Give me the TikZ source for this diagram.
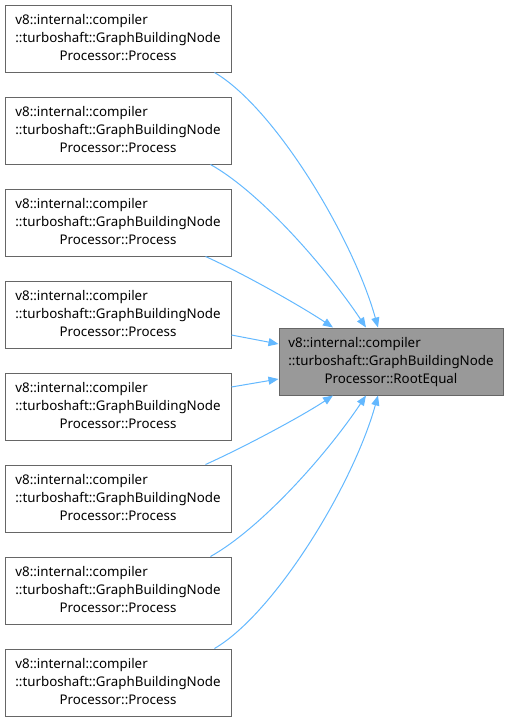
\documentclass[tikz,border=0pt]{standalone}
\usepackage{fontspec}
\setmainfont{Noto Sans}
\usetikzlibrary{arrows.meta, positioning, calc}
\definecolor{EdgeBlue}{HTML}{63B8FF}
\definecolor{BoxGray} {HTML}{666666}
\definecolor{RootFill}{HTML}{999999}
\newcommand{\gbname}[1]{\begin{tabular}{@{}l@{}}v8::internal::compiler\\::turboshaft::GraphBuildingNode\\\multicolumn{1}{@{}c@{}}{Processor::#1}\end{tabular}}

\begin{document}
\begin{tikzpicture}[
  x = 0.75pt, y = -0.75pt,
  node distance = 18pt,
  caller/.style = {draw=BoxGray, fill=white, line width=0.75pt,
                   minimum width=169.5pt, minimum height=50.25pt, inner sep=0pt,
                   font=\fontsize{10}{13.5}\selectfont, align=center},
  root/.style   = {caller, fill=RootFill, minimum width=168pt},
  arr/.style    = {-{Triangle[length=7.5pt, width=6pt]}, EdgeBlue, line width=0.75pt},
]
\useasboundingbox (0,0) rectangle (509,722);
\node[caller] (p1) at (118,38.5) {\gbname{Process}};
\node[caller, below=of p1] (p2) {\gbname{Process}};
\node[caller, below=of p2] (p3) {\gbname{Process}};
\node[caller, below=of p3] (p4) {\gbname{Process}};
\node[caller, below=of p4] (p5) {\gbname{Process}};
\node[caller, below=of p5] (p6) {\gbname{Process}};
\node[caller, below=of p6] (p7) {\gbname{Process}};
\node[caller, below=of p7] (p8) {\gbname{Process}};
\node[root] (root) at (391,361.5) {\gbname{RootEqual}};
% callers above
\draw[arr] ($(p1.south east)+(-17,0)$) .. controls +(60,35) and +(-25,-90) .. ($(root.north)+(-13,0)$);
\draw[arr] ($(p2.south east)+(-21,0)$) .. controls +(50,28) and +(-40,-60) .. ($(root.north)+(-25,0)$);
\draw[arr] ($(p3.south east)+(-26,0)$) .. controls +(40,18) and +(-30,-20) .. ($(root.north)+(-58,0)$);
\draw[arr] ($(p4.east)+(0,20.5)$)  -- ($(root.west)+(0,-17.5)$);
% callers below
\draw[arr] ($(p5.east)+(0,-19.5)$) -- ($(root.west)+(0,17.5)$);
\draw[arr] ($(p6.north east)+(-26,0)$) .. controls +(40,-18) and +(-30,20) .. ($(root.south)+(-58,0)$);
\draw[arr] ($(p7.north east)+(-21,0)$) .. controls +(50,-28) and +(-40,60) .. ($(root.south)+(-25,0)$);
\draw[arr] ($(p8.north east)+(-17,0)$) .. controls +(60,-35) and +(-25,90) .. ($(root.south)+(-13,0)$);
\end{tikzpicture}
\end{document}
